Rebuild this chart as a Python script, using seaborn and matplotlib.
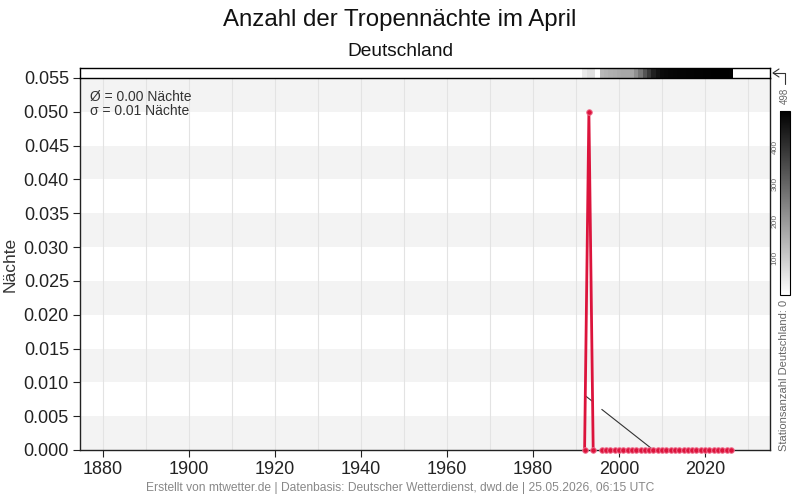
import numpy as np
import pandas as pd
import matplotlib
matplotlib.use('Agg')
import matplotlib.pyplot as plt
from matplotlib.colors import LinearSegmentedColormap
from matplotlib.lines import Line2D
import seaborn as sns

# Daten
years = [1992, 1993, 1994] + list(range(1996, 2027))
nights = [0.0, 0.05, 0.0] + [0.0] * 31
trend = [0.0081, 0.0076, 0.0071,
         0.0060, 0.0055, 0.0050, 0.0045, 0.0040, 0.0035, 0.0030, 0.0025,
         0.0020, 0.0015, 0.0010, 0.0005, 0.0] + [0.0] * 18

station_years = list(range(1992, 2027))
stations = [42, 62, 62, np.nan, 139, 146, 154, 158, 166, 170, 170, 174,
            217, 266, 332, 385, 432, 459, 478, 482, 485, 487, 489, 490,
            491, 492, 493, 494, 495, 496, 497, 498, 498, 497, 496]

title = "Anzahl der Tropennächte im April"
subtitle = "Deutschland"
footer = "Erstellt von mtwetter.de | Datenbasis: Deutscher Wetterdienst, dwd.de | 25.05.2026, 06:15 UTC"
stats = "Ø = 0.00 Nächte\nσ = 0.01 Nächte"
y_ticks = [0.000, 0.005, 0.010, 0.015, 0.020, 0.025, 0.030, 0.035, 0.040, 0.045, 0.050, 0.055]


def main():
    df = pd.DataFrame({'year': years, 'nights': nights, 'trend': trend})
    df['seg'] = (df['year'] > 1995).astype(int)

    sns.set_style('white')
    plt.rcParams['font.family'] = ['Liberation Sans', 'DejaVu Sans']

    fig = plt.figure(figsize=(8, 5), dpi=100)
    ax = fig.add_axes([0.1, 0.1, 0.8625, 0.744])
    ax_strip = fig.add_axes([0.1, 0.844, 0.8625, 0.02], sharex=ax)
    cax = fig.add_axes([0.975, 0.41, 0.0125, 0.368])

    # Hintergrundbänder
    for i in range(0, len(y_ticks) - 1, 2):
        ax.axhspan(y_ticks[i], y_ticks[i + 1], color='#f3f3f3', zorder=0, lw=0)
    for x in range(1880, 2031, 10):
        ax.axvline(x, color='#e3e3e3', lw=0.8, zorder=0.5)

    sns.lineplot(data=df, x='year', y='trend', units='seg', estimator=None,
                 color='#333333', lw=0.8, ax=ax, zorder=2)
    sns.lineplot(data=df, x='year', y='nights', units='seg', estimator=None,
                 color='#dc143c', lw=2.0, marker='o', markersize=4,
                 markeredgecolor='#f07090', markeredgewidth=0.7, ax=ax, zorder=3,
                 clip_on=False)

    ax.set_xlim(1874.7, 2035.1)
    ax.set_ylim(0, 0.055)
    ax.set_yticks(y_ticks)
    ax.set_yticklabels([f"{t:.3f}" for t in y_ticks])
    ax.set_xticks(range(1880, 2021, 20))
    ax.tick_params(axis='both', labelsize=13, colors='#222222', length=5,
                   width=0.8, direction='out', bottom=True, left=True, pad=3)
    ax.set_xlabel('')
    ax.set_ylabel('Nächte', fontsize=12.5, color='#333333', labelpad=4)
    for sp in ax.spines.values():
        sp.set_color('#222222')
        sp.set_linewidth(1.0)
    ax.spines['top'].set_visible(False)

    ax.text(0.015, 0.969, stats, transform=ax.transAxes, ha='left', va='top',
            fontsize=10, color='#333333', linespacing=1.05)

    # Stationsanzahl-Streifen
    cmap = LinearSegmentedColormap.from_list('wb', ['#ffffff', '#000000'])
    edges = np.arange(station_years[0] - 0.5, station_years[-1] + 1.0, 1.0)
    vals = np.ma.masked_invalid(np.array([stations], dtype=float))
    mesh = ax_strip.pcolormesh(edges, [0, 1], vals, cmap=cmap, vmin=0, vmax=498)
    ax_strip.set_ylim(0, 1)
    ax_strip.set_yticks([])
    ax_strip.tick_params(axis='x', bottom=False, labelbottom=False)
    for sp in ax_strip.spines.values():
        sp.set_color('#000000')
        sp.set_linewidth(1.0)

    cb = fig.colorbar(mesh, cax=cax)
    cb.set_ticks([100, 200, 300, 400])
    cb.ax.yaxis.set_ticks_position('left')
    cb.ax.tick_params(labelsize=6, colors='#666666', length=0, pad=1)
    for lab in cb.ax.get_yticklabels():
        lab.set_rotation(90)
        lab.set_va('center')
    cb.outline.set_edgecolor('#000000')
    cb.outline.set_linewidth(0.8)

    fig.text(785 / 800, 1 - 96 / 500, '498', rotation=90, ha='center', va='center',
             fontsize=7, color='#666666')
    fig.text(784 / 800, 1 - 375 / 500, 'Stationsanzahl Deutschland: 0', rotation=90,
             ha='center', va='center', fontsize=8, color='#666666')
    for xs, ys in [([779, 773, 779], [69, 73, 77]), ([773, 785, 785], [73, 73, 84])]:
        fig.add_artist(Line2D([x / 800 for x in xs], [1 - y / 500 for y in ys],
                              transform=fig.transFigure, color='#333333', lw=0.8))

    fig.text(0.5, 1 - 20 / 500, title, ha='center', va='center', fontsize=17.3, color='#111111')
    fig.text(0.5, 1 - 51 / 500, subtitle, ha='center', va='center', fontsize=13.8, color='#111111')
    fig.text(0.5, 1 - 488 / 500, footer, ha='center', va='center', fontsize=8.65, color='#888888')

    fig.savefig('out.png', dpi=100)


if __name__ == '__main__':
    main()
